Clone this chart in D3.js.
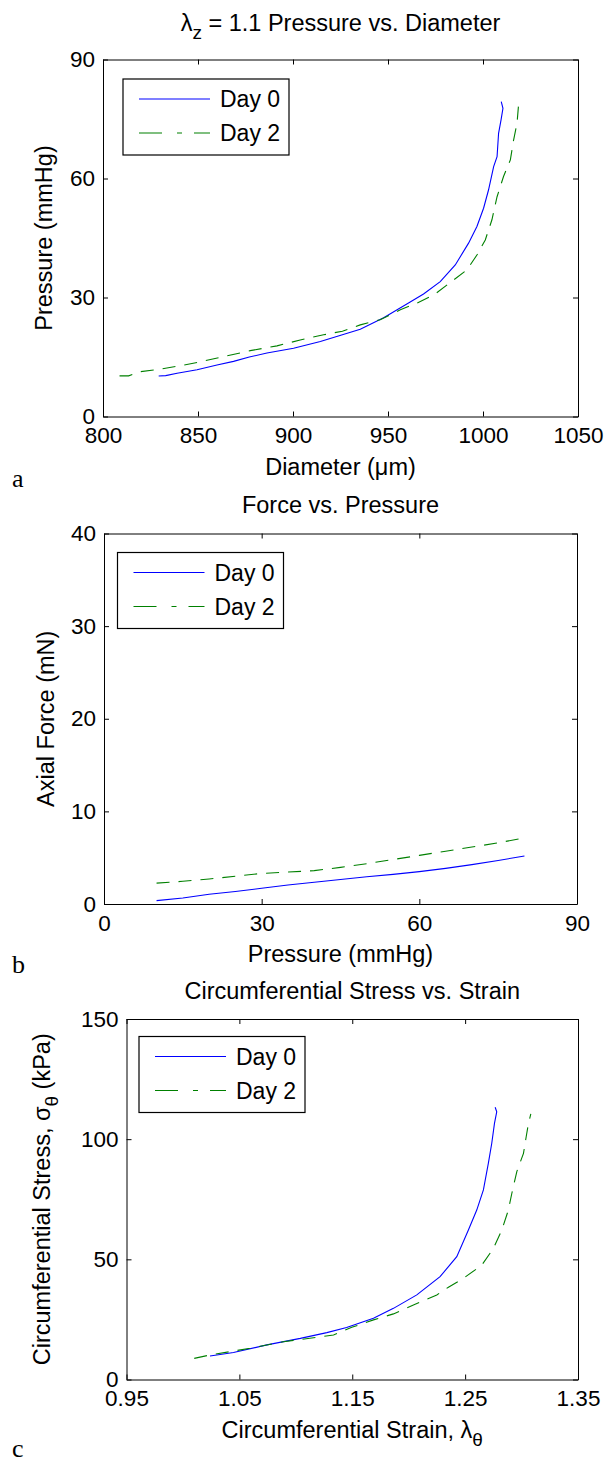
<!DOCTYPE html>
<html>
<head>
<meta charset="utf-8">
<script src="https://cdn.jsdelivr.net/npm/d3@7"></script>
<style>
html,body{margin:0;padding:0;background:#fff;}
svg{display:block;}
text{font-family:"Liberation Sans",Arial,sans-serif;fill:#000;}
</style>
</head>
<body>
<script>
// ---------- Panel a: Pressure vs. Diameter ----------
const pdTitle = "Pressure vs. Diameter";
const pdXTicks = [800, 850, 900, 950, 1000, 1050];
const pdYTicks = [0, 30, 60, 90];
const pdDay0Diameter = [829.3, 833, 839, 849.5, 860, 868.7, 877, 886.3, 900.3, 914.4, 926, 935.4, 947.7, 960.8, 968.7, 977.5, 985.4, 992.4, 996.8, 1000.3, 1002.9, 1005.6, 1007.4, 1008.2, 1009.5, 1010.5, 1009.6];
const pdDay0Pressure = [10.2, 10.3, 10.9, 11.8, 13, 13.9, 15, 16, 17.2, 18.9, 20.6, 22, 24.9, 28.6, 30.9, 34, 38.2, 43.7, 47.9, 52.5, 57.1, 63, 65.5, 71.4, 74.8, 77.7, 79.4];
const pdDay2Diameter = [808.7, 813.5, 819.6, 828.4, 840.7, 849.5, 863.5, 877.5, 891.6, 903.8, 916.1, 926, 935.4, 945.9, 956.5, 965.3, 974.9, 982.8, 991.6, 996.8, 1001.2, 1004.7, 1007.4, 1010.8, 1014.4, 1016.1, 1017.9, 1018.7, 1017.5];
const pdDay2Pressure = [10.25, 10.25, 11.3, 11.8, 12.8, 13.6, 15.1, 16.6, 17.8, 19.3, 20.6, 21.5, 23.1, 24.4, 26.9, 28.6, 30.9, 33.8, 37, 40.7, 44.5, 49.6, 55.4, 60.5, 64.7, 69.7, 73.9, 78.5, 79.1];

// ---------- Panel b: Force vs. Pressure ----------
const fpTitle = "Force vs. Pressure";
const fpXTicks = [0, 30, 60, 90];
const fpYTicks = [0, 10, 20, 30, 40];
const fpPressure = [10, 15, 20, 25, 30, 35, 40, 45, 50, 55, 60, 65, 70, 75, 80];
const fpDay0Force = [0.36, 0.65, 1.05, 1.35, 1.7, 2.05, 2.35, 2.65, 2.95, 3.2, 3.5, 3.85, 4.25, 4.7, 5.18];
const fpDay2Force = [2.25, 2.45, 2.7, 3.0, 3.3, 3.45, 3.6, 3.95, 4.35, 4.8, 5.25, 5.7, 6.15, 6.6, 7.15];

// ---------- Panel c: Circumferential Stress vs. Strain ----------
const ssTitle = "Circumferential Stress vs. Strain";
const ssXTicks = [0.95, 1.05, 1.15, 1.25, 1.35];
const ssYTicks = [0, 50, 100, 150];
const ssDay0Strain = [1.024, 1.0448, 1.0744, 1.104, 1.1275, 1.145, 1.1688, 1.1865, 1.2072, 1.2278, 1.2426, 1.2529, 1.2603, 1.2662, 1.2706, 1.2736, 1.276, 1.278, 1.2766];
const ssDay0Stress = [9.8, 11.2, 14.4, 17.1, 19.5, 21.6, 25.5, 29.6, 35.2, 42.8, 51.1, 62.2, 70.5, 78.9, 90, 98.3, 106.6, 111.4, 113.3];
const ssDay2Strain = [1.010, 1.024, 1.0596, 1.089, 1.1334, 1.1496, 1.1688, 1.1865, 1.2042, 1.2249, 1.2352, 1.2485, 1.2648, 1.2751, 1.2825, 1.2883, 1.2914, 1.2958, 1.3017, 1.3041, 1.3061, 1.3082];
const ssDay2Stress = [8.8, 10.2, 13, 15.7, 18.5, 21.7, 24.8, 27.3, 31, 35.2, 38.4, 42.1, 47.6, 54.6, 62.2, 70.5, 77.5, 86.5, 94.1, 101, 106.6, 110.5];

const seriesNames = ["Day 0", "Day 2"];
const seriesColors = ["#0000ff", "#008000"];

const W = 606, H = 1458;
const FS = 22.5;   // tick labels
const LFS = 23.5;  // titles, axis labels, legend
const svg = d3.select("body").append("svg").attr("width", W).attr("height", H);

function zip(xs, ys) { return xs.map((x, i) => [x, ys[i]]); }

function addParts(txt, parts) {
  parts.forEach(p => {
    const ts = txt.append("tspan").text(p.t);
    if (p.sub) ts.attr("dy", 8).style("font-size", "19px");
    if (p.unsub) ts.attr("dy", -8);
  });
}

function panel(cfg) {
  const x = d3.scaleLinear().domain([cfg.xTicks[0], cfg.xTicks[cfg.xTicks.length - 1]]).range([cfg.left, cfg.right]);
  const y = d3.scaleLinear().domain([cfg.yTicks[0], cfg.yTicks[cfg.yTicks.length - 1]]).range([cfg.bottom, cfg.top]);
  const g = svg.append("g");
  const fmt = cfg.fmt || (d => d);

  const axB = g.append("g").attr("transform", `translate(0,${cfg.bottom})`)
    .call(d3.axisBottom(x).tickValues(cfg.xTicks).tickFormat(fmt).tickSizeInner(-5).tickSizeOuter(0).tickPadding(11));
  const axL = g.append("g").attr("transform", `translate(${cfg.left},0)`)
    .call(d3.axisLeft(y).tickValues(cfg.yTicks).tickSizeInner(-5).tickSizeOuter(0).tickPadding(8));
  const axT = g.append("g").attr("transform", `translate(0,${cfg.top})`)
    .call(d3.axisTop(x).tickValues(cfg.xTicks).tickFormat("").tickSizeInner(-5).tickSizeOuter(0));
  const axR = g.append("g").attr("transform", `translate(${cfg.right},0)`)
    .call(d3.axisRight(y).tickValues(cfg.yTicks).tickFormat("").tickSizeInner(-5).tickSizeOuter(0));
  [axB, axL, axT, axR].forEach(a => {
    a.selectAll("text").style("font-size", FS + "px").attr("fill", "#000");
    a.selectAll("path,line").attr("stroke", "#000").attr("stroke-width", 1);
  });

  const line = d3.line().x(d => x(d[0])).y(d => y(d[1]));
  cfg.series.forEach((s, i) => {
    g.append("path").datum(s).attr("fill", "none")
      .attr("stroke", seriesColors[i]).attr("stroke-width", 1.1)
      .attr("stroke-dasharray", i === 1 ? "13,9" : null)
      .attr("d", line);
  });

  // legend
  const lg = g.append("g").attr("transform", `translate(${cfg.left + cfg.legDx},${cfg.top + cfg.legDy})`);
  lg.append("rect").attr("x", 0).attr("y", 0).attr("width", 166).attr("height", 76)
    .attr("fill", "#fff").attr("stroke", "#000").attr("stroke-width", 1.2);
  seriesNames.forEach((n, i) => {
    const yy = 20 + i * 34;
    lg.append("line").attr("x1", 16).attr("x2", 87).attr("y1", yy).attr("y2", yy)
      .attr("stroke", seriesColors[i]).attr("stroke-width", 1.1)
      .attr("stroke-dasharray", i === 1 ? "23,15,5,12,16" : null);
    lg.append("text").attr("x", 97).attr("y", yy).attr("dy", "0.36em").style("font-size", "23px").text(n);
  });

  // title
  const t = g.append("text").attr("x", (cfg.left + cfg.right) / 2).attr("y", cfg.titleY)
    .attr("text-anchor", "middle").style("font-size", LFS + "px");
  addParts(t, cfg.titleParts);
  // x label
  const xl = g.append("text").attr("x", (cfg.left + cfg.right) / 2).attr("y", cfg.bottom + 58)
    .attr("text-anchor", "middle").style("font-size", LFS + "px");
  addParts(xl, cfg.xLabel);
  // y label
  const yl = g.append("text")
    .attr("transform", `translate(${cfg.yLabelX},${(cfg.top + cfg.bottom) / 2}) rotate(-90)`)
    .attr("text-anchor", "middle").style("font-size", LFS + "px");
  addParts(yl, cfg.yLabel);
  // panel letter
  svg.append("text").attr("x", 12).attr("y", cfg.letterY)
    .style("font-family", "'Liberation Serif','Times New Roman',serif").style("font-size", "26px")
    .text(cfg.letter);
}

panel({
  left: 103, right: 578, top: 59.5, bottom: 416.5,
  xTicks: pdXTicks, yTicks: pdYTicks,
  series: [zip(pdDay0Diameter, pdDay0Pressure), zip(pdDay2Diameter, pdDay2Pressure)],
  legDx: 20, legDy: 19.5,
  titleY: 31, titleParts: [{t: "λ"}, {t: "z", sub: true}, {t: " = 1.1 " + pdTitle, unsub: true}],
  xLabel: [{t: "Diameter (μm)"}],
  yLabel: [{t: "Pressure (mmHg)"}], yLabelX: 52,
  letter: "a", letterY: 487
});

panel({
  left: 104, right: 577, top: 533.5, bottom: 904,
  xTicks: fpXTicks, yTicks: fpYTicks,
  series: [zip(fpPressure, fpDay0Force), zip(fpPressure, fpDay2Force)],
  legDx: 13.5, legDy: 19,
  titleY: 513, titleParts: [{t: fpTitle}],
  xLabel: [{t: "Pressure (mmHg)"}],
  yLabel: [{t: "Axial Force (mN)"}], yLabelX: 54,
  letter: "b", letterY: 973
});

panel({
  left: 126.5, right: 578, top: 1019, bottom: 1379.5,
  xTicks: ssXTicks, yTicks: ssYTicks, fmt: d3.format(".2f"),
  series: [zip(ssDay0Strain, ssDay0Stress), zip(ssDay2Strain, ssDay2Stress)],
  legDx: 12.5, legDy: 17.5,
  titleY: 999, titleParts: [{t: ssTitle}],
  xLabel: [{t: "Circumferential Strain, λ"}, {t: "θ", sub: true}],
  yLabel: [{t: "Circumferential Stress, σ"}, {t: "θ", sub: true}, {t: " (kPa)", unsub: true}], yLabelX: 50,
  letter: "c", letterY: 1457
});
</script>
</body>
</html>
